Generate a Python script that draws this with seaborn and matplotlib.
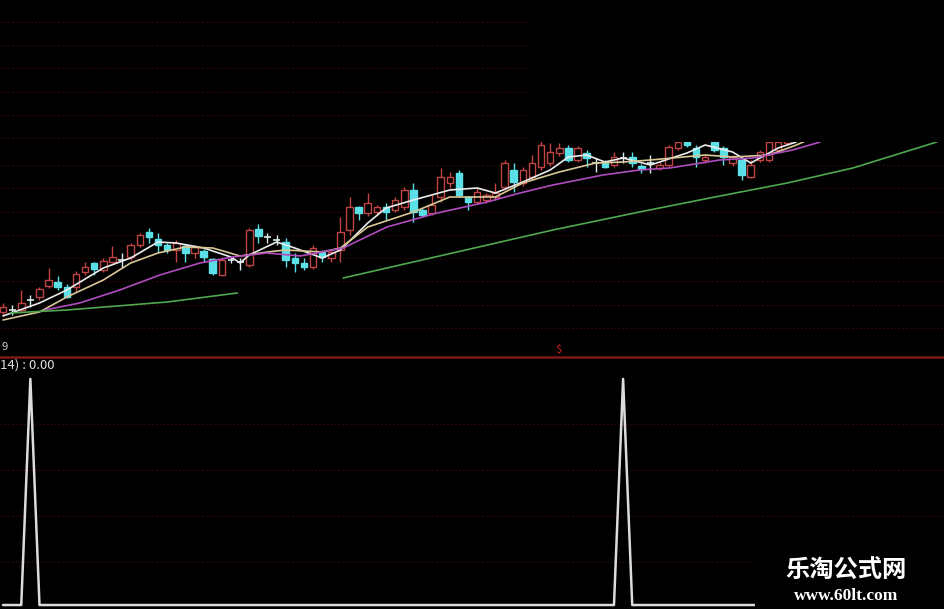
import matplotlib
matplotlib.use("Agg")
import numpy as np
import pandas as pd
import matplotlib.pyplot as plt
import seaborn as sns

# ---- candle data (price units, one entry per bar) ----
opens = [88, 90, 90, 100, 103, 114, 118, 113, 113, 128, 137, 130, 138, 140, 143, 155, 168, 161, 155, 150,
         154, 147, 149, 141, 125, 140, 138, 135, 171, 163, 160, 158, 142, 137, 133, 148, 142, 150, 170, 193,
         187, 188, 193, 190, 193, 210, 190, 187, 203, 217, 227, 203, 198, 200, 203, 213, 230, 217, 223, 233,
         237, 247, 252, 240, 247, 237, 237, 235, 242, 243, 234, 237, 232, 235, 252, 258, 252, 240, 258, 252,
         237, 240, 223, 240, 240, 250, 257]
closes = [93, 90, 97, 100, 111, 120, 113, 103, 126, 133, 131, 139, 143, 140, 155, 165, 163, 155, 150, 157,
          147, 153, 143, 127, 140, 140, 138, 170, 164, 163, 160, 140, 137, 133, 152, 143, 148, 168, 193, 187,
          197, 193, 188, 200, 210, 188, 185, 195, 223, 223, 205, 198, 208, 205, 207, 237, 218, 230, 237, 255,
          248, 252, 240, 252, 242, 237, 233, 243, 242, 237, 231, 237, 235, 253, 258, 255, 243, 243, 250, 243,
          243, 225, 235, 248, 258, 258, 260]
highs = [97, 95, 110, 105, 113, 132, 124, 116, 129, 138, 138, 142, 154, 147, 157, 167, 172, 167, 157, 160,
         156, 155, 151, 142, 143, 143, 142, 172, 176, 167, 165, 162, 147, 142, 155, 150, 150, 183, 203, 194,
         207, 195, 197, 203, 213, 217, 192, 205, 232, 228, 230, 204, 212, 207, 217, 240, 237, 233, 245, 260,
         257, 257, 255, 254, 250, 242, 240, 248, 248, 248, 236, 245, 238, 255, 265, 262, 255, 245, 260, 254,
         245, 242, 240, 250, 265, 270, 270]
lows = [85, 85, 87, 93, 100, 112, 110, 102, 108, 125, 125, 128, 137, 132, 140, 153, 157, 148, 147, 138,
        138, 142, 138, 125, 124, 137, 130, 133, 157, 157, 155, 133, 128, 130, 131, 138, 138, 138, 165, 180,
        184, 185, 180, 188, 190, 178, 183, 185, 198, 212, 203, 190, 196, 197, 200, 210, 208, 214, 220, 230,
        234, 244, 238, 238, 233, 228, 232, 233, 237, 233, 227, 227, 230, 233, 250, 253, 233, 237, 248, 235,
        234, 220, 222, 238, 238, 248, 255]

# ---- moving average lines (bar index, price) ----
ma5_idx = [0, 4, 7, 11, 14, 17, 19, 22, 25, 26, 27, 30, 32, 35, 37, 40, 42, 45, 49, 52, 54, 57, 60, 62,
           64, 66, 68, 71, 75, 77, 80, 82, 83, 85, 87]
ma5_val = [84, 97, 110, 132, 142, 158, 157, 152, 143, 137, 145, 158, 152, 142, 150, 177, 192, 200, 210,
           212, 207, 218, 230, 243, 245, 238, 242, 235, 247, 255, 248, 237, 242, 252, 258]
ma10_idx = [0, 4, 7, 11, 14, 17, 20, 23, 26, 29, 31, 35, 37, 40, 45, 49, 54, 57, 61, 65, 68, 71, 77, 80,
            84, 87, 88]
ma10_val = [80, 88, 103, 120, 137, 147, 153, 152, 144, 148, 150, 148, 152, 173, 188, 203, 203, 217, 228,
            237, 238, 240, 245, 243, 245, 255, 259]
ma20_idx = [4.6, 8.4, 12.8, 17.2, 21.6, 25.2, 28.9, 32.6, 37.3, 42.1, 47.6, 53.1, 56.7, 60.3, 65.8, 69.8,
            73.1, 78.6, 82.2, 86.6, 89.6]
ma20_val = [90, 97, 110, 125, 137, 143, 147, 144, 152, 173, 187, 198, 207, 215, 225, 230, 232, 240, 242,
            250, 258]
ma60_idx = [0.8, 7.0, 18.0, 25.7, 25.8, 37.2, 37.3, 49.3, 60.3, 69.8, 77.5, 86.0, 93.2, 102.4]
ma60_val = [87, 90, 98, 107, np.nan, np.nan, 122, 147, 170, 188, 202, 217, 232, 258]

# ---- indicator in the lower panel ----
signal = [0, 0, 0, 1, 0, 0, 0, 0, 0, 0, 0, 0, 0, 0, 0, 0, 0, 0, 0, 0,
          0, 0, 0, 0, 0, 0, 0, 0, 0, 0, 0, 0, 0, 0, 0, 0, 0, 0, 0, 0,
          0, 0, 0, 0, 0, 0, 0, 0, 0, 0, 0, 0, 0, 0, 0, 0, 0, 0, 0, 0,
          0, 0, 0, 0, 0, 0, 0, 0, 1, 0, 0, 0, 0, 0, 0, 0, 0, 0, 0, 0,
          0, 0, 0, 0, 0, 0, 0]

sns.set_theme(style="dark", rc={"axes.facecolor": "black", "figure.facecolor": "black"})
plt.rcParams["font.family"] = ["Noto Sans CJK SC", "DejaVu Sans"]

W, H = 945, 609
fig = plt.figure(figsize=(W / 100, H / 100), dpi=100)


def px_axes(x0, y0, x1, y1, **kw):
    return fig.add_axes([x0 / W, 1 - y1 / H, (x1 - x0) / W, (y1 - y0) / H], **kw)


GRID = "#4a0f0f"
DOT = (0, (1, 2.5))
XLIM = (-0.33, 103.3)


def style(ax):
    ax.set_facecolor("black")
    ax.set_xticks([])
    ax.tick_params(left=False, labelleft=False, bottom=False)
    for s in ax.spines.values():
        s.set_visible(False)
    ax.grid(False)


# faint grid above the clipped price area
ax_top = px_axes(0, 0, 530, 142)
style(ax_top)
ax_top.set_ylim(0, 142)
for v in [4, 27, 50, 74, 97, 120]:
    ax_top.axhline(v, color=GRID, lw=0.8, ls=DOT)

# price panel
ax = px_axes(0, 142, W, 356)
style(ax)
ax.set_facecolor("none")
ax.set_xlim(*XLIM)
ax.set_ylim(44, 258)
for v in np.arange(72, 258, 23.3):
    ax.axhline(v, color=GRID, lw=0.8, ls=DOT, zorder=0)

df = pd.DataFrame({"o": opens, "c": closes, "h": highs, "l": lows})
df["i"] = np.arange(len(df))
UP, DOWN, DOJI = "#c04444", "#5ce0e8", "#d8ecec"
for r in df.itertuples():
    if r.c > r.o:
        col = UP
    elif r.c < r.o:
        col = DOWN
    else:
        col = DOJI
    ax.vlines(r.i, r.l, r.h, color=col, lw=1, zorder=2)
    if r.c == r.o:
        ax.hlines(r.o, r.i - 0.38, r.i + 0.38, color=col, lw=1.2, zorder=3)
    else:
        face = "black" if r.c > r.o else DOWN
        ax.bar(r.i, abs(r.c - r.o), bottom=min(r.o, r.c), width=0.72,
               facecolor=face, edgecolor=col, lw=1, zorder=3)

lines = [(ma5_idx, ma5_val, "#ececec"), (ma10_idx, ma10_val, "#d9c896"),
         (ma20_idx, ma20_val, "#b04cc0"), (ma60_idx, ma60_val, "#4fa84f")]
for xs, ys, col in lines:
    d = pd.DataFrame({"x": xs, "y": ys})
    parts = np.split(d, np.where(d["y"].isna())[0]) if d["y"].isna().any() else [d]
    for part in parts:
        part = part.dropna()
        if len(part) > 1:
            sns.lineplot(data=part, x="x", y="y", ax=ax, color=col, lw=1.2, sort=False,
                         estimator=None, zorder=4)
ax.set_xlabel(""); ax.set_ylabel("")
ax.set_xlim(*XLIM); ax.set_ylim(44, 258)

# separator and labels
fig.add_artist(plt.Line2D([0, 1], [1 - 357 / H] * 2, color="#801a1a", lw=1.8))
fig.text(2 / W, 1 - 347 / H, "9", color="#d0d0d0", fontsize=8, va="center")
fig.text(558 / W, 1 - 350 / H, "$", color="#d02020", fontsize=8, va="center", ha="center")

# lower indicator panel
ax2 = px_axes(0, 359, W, H)
style(ax2)
ax2.set_xlim(*XLIM)
ax2.set_ylim(-0.0176, 1.088)
for v in [0.189, 0.392, 0.595, 0.802]:
    ax2.axhline(v, color=GRID, lw=0.8, ls=DOT, zorder=0)
sig = pd.DataFrame({"i": np.arange(len(signal)), "v": signal})
sns.lineplot(data=sig, x="i", y="v", ax=ax2, color="#dcdcdc", lw=1.8, estimator=None, zorder=3)
ax2.set_xlabel(""); ax2.set_ylabel("")
ax2.text(0.0, 1.0, "14) : 0.00", transform=ax2.transAxes, color="#e0e0e0", fontsize=9.5,
         va="top", ha="left")

# watermark
fig.add_artist(plt.Rectangle((755 / W, 0), 190 / W, 64 / H, transform=fig.transFigure,
                             facecolor="black", edgecolor="none", zorder=5))
fig.text(846 / W, 1 - 570 / H, "乐淘公式网", color="white", fontsize=17.5, fontweight="bold",
         ha="center", va="center", zorder=6)
fig.text(846 / W, 1 - 596 / H, "www.60lt.com", color="white", fontsize=12.5, fontweight="bold",
         family="Liberation Serif", ha="center", va="center", zorder=6)

fig.savefig("out.png", dpi=100, facecolor="black")
